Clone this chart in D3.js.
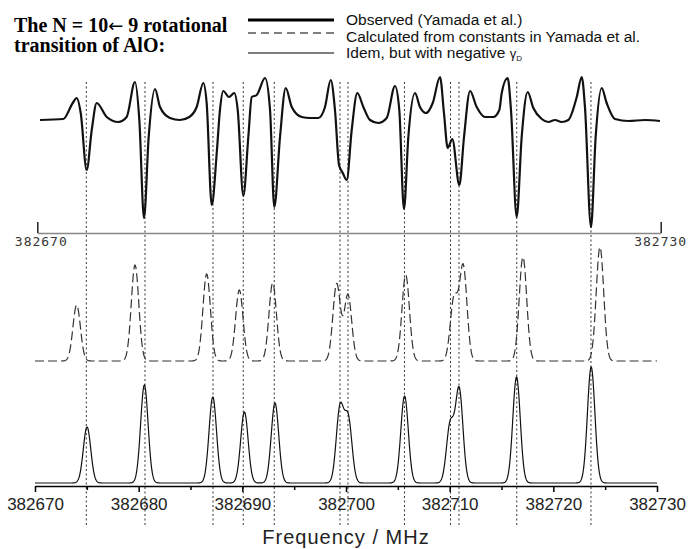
<!DOCTYPE html>
<html>
<head>
<meta charset="utf-8">
<script src="https://cdn.jsdelivr.net/npm/d3@7/dist/d3.min.js"></script>
<style>
  body { margin: 0; background: #fff; }
</style>
</head>
<body>
<div id="chart"></div>
<script>
// ---- data ----
const titleParts = [["The N = 10", "\u2190", " 9 rotational"], ["transition of AlO:"]];
const legendLabels = ["Observed (Yamada et al.)", "Calculated from constants in Yamada et al.", "Idem, but with negative "];

// observed trace (second-derivative style scan), signal in arbitrary units, up = positive
const obsFreq = [382670.26, 382672.50, 382673.41, 382673.79, 382674.18, 382674.75, 382675.24, 382675.72, 382676.68, 382677.80,
  382678.60, 382679.40, 382679.82, 382680.27, 382680.72, 382681.33, 382681.81, 382682.77, 382683.73, 382684.63,
  382685.34, 382685.98, 382686.30, 382686.79, 382687.27, 382687.58, 382687.90, 382688.45, 382688.96, 382689.29,
  382689.83, 382690.31, 382690.64, 382691.12, 382691.92, 382692.40, 382692.81, 382693.36, 382693.91, 382694.49,
  382695.45, 382696.25, 382697.05, 382697.69, 382698.24, 382698.65, 382699.04, 382699.40, 382699.78, 382700.26,
  382700.80, 382701.38, 382702.02, 382702.82, 382703.63, 382704.43, 382704.84, 382705.29, 382705.71, 382706.35,
  382706.83, 382707.41, 382708.06, 382708.76, 382709.14, 382709.50, 382709.94, 382710.62, 382711.07, 382711.65,
  382712.29, 382713.09, 382713.89, 382714.47, 382714.70, 382715.27, 382715.59, 382716.14, 382716.62, 382717.20,
  382717.74, 382718.55, 382719.18, 382719.83, 382720.47, 382721.11, 382721.92, 382722.40, 382722.71, 382723.29,
  382723.74, 382724.32, 382724.80, 382725.60, 382726.88, 382728.49, 382729.93];
const obsSignal = [0, 1, 17, 22, 7, -50, -10, 17, 3, -2,
  3, 38, 0, -98, -17, 31, 13, 2, 0, 3,
  13, 37, 17, -85, -33, 10, 29, 23, 27, 10,
  -76, -17, 23, 25, 42, 10, -87, -17, 32, 13,
  3, 2, 2, 13, 40, 10, -45, -53, -60, -10,
  27, 13, 0, -3, 2, 34, 10, -89, -17, 27,
  13, 7, 17, 43, 7, -28, -19, -65, -17, 29,
  13, 3, 3, 10, 27, 42, 10, -97, -17, 28,
  12, 1, -2, 0, -2, 0, 23, 43, 13, -107,
  -17, 32, 17, 1, -1, 0, -1];

// calculated line list (constants of Yamada et al.)
const calcFreq = [382674.02, 382679.65, 382686.56, 382689.71, 382692.93, 382699.10, 382700.19, 382705.76, 382710.42, 382711.31, 382717.07, 382724.50];
const calcInt = [56, 96, 87, 71, 78, 77, 66, 86, 62, 94, 104, 114];

// same with negative gamma_D
const negFreq = [382675.02, 382680.55, 382687.15, 382690.20, 382693.15, 382699.42, 382700.22, 382705.65, 382710.05, 382710.92, 382716.45, 382723.65];
const negInt = [56, 98, 86, 71, 80, 74, 63, 87, 58, 93, 106, 116];

// vertical dotted guide lines
const markerFreq = [382674.95, 382680.61, 382687.17, 382690.09, 382693.08, 382699.42, 382700.19, 382705.64, 382710.08, 382710.90, 382716.47, 382723.63];

const majorTicks = [382670, 382680, 382690, 382700, 382710, 382720, 382730];
const minorTicks = [382675, 382685, 382695, 382705, 382715, 382725];
const topTicks = [382670, 382730];

// ---- layout ----
const width = 688, height = 549;
const lineSigma = 0.36;

const svg = d3.select("#chart").append("svg")
  .attr("width", width)
  .attr("height", height)
  .style("font-family", "'Liberation Sans', Arial, sans-serif");

const x = d3.scaleLinear().domain([382670, 382730]).range([35, 657]);
const xTop = d3.scaleLinear().domain([382670, 382730]).range([37.3, 660.7]);

const yObs = d3.scaleLinear().domain([-110, 45]).range([230, 75]);
const yCalc = d3.scaleLinear().domain([0, 120]).range([361, 241]);
const yNeg = d3.scaleLinear().domain([0, 120]).range([483, 363]);

// gaussian profile of a line list
function spectrum(freqs, ints) {
  var pts = [];
  for (var f = 382670; f <= 382730.001; f += 0.04) {
    var s = 0;
    for (var i = 0; i < freqs.length; i++) {
      var d = (f - freqs[i]) / lineSigma;
      s += ints[i] * Math.exp(-0.5 * d * d);
    }
    pts.push([f, s]);
  }
  return pts;
}

// dotted guides
svg.append("g").selectAll("line")
  .data(markerFreq)
  .enter().append("line")
  .attr("x1", d => x(d)).attr("x2", d => x(d))
  .attr("y1", 82).attr("y2", 525)
  .attr("stroke", "#333")
  .attr("stroke-width", 1)
  .attr("stroke-dasharray", "2,2.5");

// observed trace
svg.append("path")
  .datum(d3.zip(obsFreq, obsSignal))
  .attr("fill", "none")
  .attr("stroke", "#111")
  .attr("stroke-width", 2.2)
  .attr("stroke-linejoin", "round")
  .attr("d", d3.line().x(d => xTop(d[0])).y(d => yObs(d[1])).curve(d3.curveMonotoneX));

// top (scan) axis
var topAxis = svg.append("g")
  .attr("transform", "translate(0,233)")
  .call(d3.axisTop(xTop).tickValues(topTicks).tickSize(11).tickFormat("").tickSizeOuter(0));
topAxis.select(".domain").attr("stroke", "#888").attr("stroke-width", 1.5);
topAxis.selectAll(".tick line").attr("stroke", "#222").attr("stroke-width", 1.5);
svg.append("g").selectAll("text")
  .data(topTicks)
  .enter().append("text")
  .attr("x", (d, i) => xTop(d) + (i == 0 ? 4 : 0))
  .attr("y", 246)
  .attr("text-anchor", "middle")
  .style("font-family", "'DejaVu Sans Mono', monospace")
  .style("font-size", "13px")
  .style("letter-spacing", "1px")
  .attr("fill", "#333")
  .text(d => d);

// calculated trace (dashed)
svg.append("path")
  .datum(spectrum(calcFreq, calcInt))
  .attr("fill", "none")
  .attr("stroke", "#333")
  .attr("stroke-width", 1.2)
  .attr("stroke-dasharray", "9,4")
  .attr("d", d3.line().x(d => x(d[0])).y(d => yCalc(d[1])));

// negative gamma_D trace
svg.append("path")
  .datum(spectrum(negFreq, negInt))
  .attr("fill", "none")
  .attr("stroke", "#111")
  .attr("stroke-width", 1.2)
  .attr("d", d3.line().x(d => x(d[0])).y(d => yNeg(d[1])));

// bottom axis
var bottomAxis = svg.append("g")
  .attr("transform", "translate(0,486)")
  .call(d3.axisBottom(x).tickValues(majorTicks).tickSize(6).tickSizeOuter(0).tickFormat(d3.format("d")));
bottomAxis.select(".domain").attr("stroke", "#000").attr("stroke-width", 1.5);
bottomAxis.selectAll(".tick line").attr("stroke", "#000").attr("stroke-width", 1.5);
bottomAxis.selectAll(".tick text")
  .attr("y", 12)
  .style("font-family", "'Liberation Sans', Arial, sans-serif")
  .style("font-size", "17px")
  .attr("fill", "#222");
svg.append("g")
  .attr("transform", "translate(0,486)")
  .call(d3.axisBottom(x).tickValues(minorTicks).tickSize(4).tickFormat(""))
  .call(g => g.select(".domain").remove())
  .selectAll(".tick line").attr("stroke", "#000").attr("stroke-width", 1.5);

svg.append("text")
  .attr("x", (x.range()[0] + x.range()[1]) / 2)
  .attr("y", 544)
  .attr("text-anchor", "middle")
  .style("font-size", "20px")
  .style("letter-spacing", "1px")
  .attr("fill", "#222")
  .text("Frequency / MHz");

// title
titleParts.forEach(function (parts, i) {
  var t = svg.append("text")
    .attr("x", 14)
    .attr("y", 32 + i * 20)
    .style("font-family", "'Liberation Serif', 'Times New Roman', serif")
    .style("font-weight", "bold")
    .style("font-size", "20px")
    .attr("fill", "#000");
  parts.forEach(function (p) {
    var s = t.append("tspan").text(p);
    if (p == "\u2190") {
      s.style("font-family", "'DejaVu Sans', sans-serif").style("font-weight", "normal").style("font-size", "18px");
    }
  });
});

// legend
var legendY = [20, 33, 53];
var legendTextY = [25, 42, 58];
var legendStyles = [
  { w: 3, dash: null },
  { w: 1, dash: "8,5" },
  { w: 1, dash: null }
];
var legend = svg.append("g");
legendLabels.forEach(function (label, i) {
  legend.append("line")
    .attr("x1", 248).attr("x2", 334)
    .attr("y1", legendY[i]).attr("y2", legendY[i])
    .attr("stroke", "#000")
    .attr("stroke-width", legendStyles[i].w)
    .attr("stroke-dasharray", legendStyles[i].dash);
  var t = legend.append("text")
    .attr("x", 346)
    .attr("y", legendTextY[i])
    .style("font-size", "15.5px")
    .attr("fill", "#111")
    .text(label);
  if (i == 2) {
    t.append("tspan").style("font-size", "13px").text("\u03b3");
    t.append("tspan").attr("dy", 3).style("font-size", "8px").text("D");
  }
});
</script>
</body>
</html>
